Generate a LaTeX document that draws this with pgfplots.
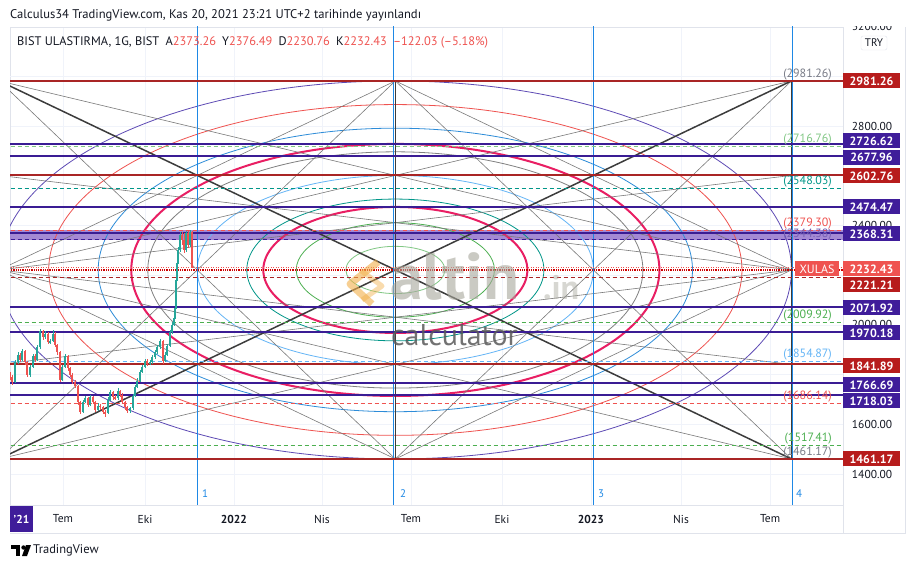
\documentclass[border=0pt]{standalone}
\usepackage{pgfplots}
\pgfplotsset{compat=1.18}
\usepackage{pgfplotstable}
\usepackage{fontspec}
\setmainfont{PT Sans}
\definecolor{tvtext}{HTML}{131722}
\definecolor{tvgray}{HTML}{787B86}
\definecolor{tvgrid}{HTML}{F0F3FA}
\definecolor{tvborder}{HTML}{E0E3EB}
\definecolor{dred}{HTML}{A92525}
\definecolor{tagred}{HTML}{B71C1C}
\definecolor{purp}{HTML}{3A1C94}
\definecolor{tagpurp}{HTML}{3F1D9A}
\definecolor{band}{HTML}{9575CD}
\definecolor{lred}{HTML}{EF5350}
\definecolor{cgreen}{HTML}{26A69A}
\definecolor{vblue}{HTML}{1E88E5}
\definecolor{ellpurp}{HTML}{5E4BB5}
\definecolor{ellblue}{HTML}{2D8CD8}
\definecolor{crimson}{HTML}{E91E63}
\definecolor{ellgray}{HTML}{808080}
\definecolor{lblue}{HTML}{64B5F6}
\definecolor{eteal}{HTML}{009688}
\definecolor{egreen}{HTML}{4CAF50}
\definecolor{lgreen}{HTML}{81C784}
\definecolor{gline}{HTML}{7A7A7A}
\definecolor{bline}{HTML}{3C3C3C}
\definecolor{wmgray}{HTML}{A8A79C}
\definecolor{wmdark}{HTML}{5A5A5A}
\definecolor{wmorange}{HTML}{F2B04A}

\pgfplotstableread{
x o h l c
-223.9 1770 1858 1765 1850
-220.9 1850 1892 1842 1880
-216.8 1860 1905 1855 1895
-208.6 1800 1840 1792 1830
-205.5 1830 1884 1825 1875
-201.4 1860 1918 1856 1910
-198.4 1910 1985 1905 1975
-193.3 1950 1975 1945 1965
-188.1 1930 1945 1925 1935
-185.1 1935 1978 1930 1965
-175.9 1780 1840 1775 1830
-172.8 1830 1885 1825 1875
-154.4 1650 1700 1645 1690
-152.4 1690 1715 1685 1705
-147.2 1680 1720 1675 1710
-139.1 1660 1685 1655 1675
-128.8 1645 1710 1640 1700
-126.8 1700 1740 1695 1730
-118.6 1705 1745 1700 1735
-106.3 1655 1672 1648 1665
-103.3 1665 1722 1660 1715
-101.2 1715 1760 1710 1750
-99.2 1750 1785 1745 1775
-96.1 1775 1820 1770 1810
-94.1 1810 1840 1805 1830
-91.0 1830 1865 1825 1855
-85.9 1845 1858 1838 1850
-83.8 1850 1880 1845 1870
-80.8 1870 1900 1865 1890
-78.7 1890 1920 1885 1910
-75.7 1910 1945 1905 1935
-70.6 1855 1890 1850 1880
-68.5 1880 1925 1875 1915
-65.4 1915 1980 1910 1970
-63.4 1970 2010 1965 2000
-61.4 2000 2040 1995 2030
-60.3 2030 2085 2025 2070
-59.3 2070 2190 2065 2180
-58.3 2180 2265 2175 2250
-57.3 2250 2315 2245 2300
-55.2 2300 2372 2295 2360
-49.1 2300 2378 2295 2370
-45.0 2320 2382 2315 2373.26
}\greencandles

\pgfplotstableread{
x o h l c
-229.0 1800 1812 1778 1790
-227.0 1790 1798 1760 1770
-218.8 1880 1888 1850 1860
-213.7 1895 1900 1840 1850
-211.7 1850 1856 1790 1800
-203.5 1875 1882 1850 1860
-195.3 1975 1980 1940 1950
-190.2 1965 1970 1922 1930
-183.0 1965 1970 1912 1920
-181.0 1920 1925 1880 1890
-177.9 1890 1895 1770 1780
-169.7 1875 1880 1815 1825
-167.7 1825 1832 1790 1800
-165.6 1800 1808 1762 1770
-162.6 1770 1778 1745 1755
-159.5 1755 1760 1680 1690
-157.5 1690 1695 1640 1650
-149.3 1705 1712 1672 1680
-144.2 1710 1716 1682 1690
-142.1 1690 1695 1650 1660
-137.0 1675 1682 1660 1670
-133.9 1670 1676 1640 1650
-131.9 1650 1658 1630 1645
-123.7 1730 1735 1700 1710
-121.7 1710 1718 1698 1705
-116.6 1735 1740 1712 1720
-114.5 1720 1725 1682 1690
-111.5 1690 1695 1660 1670
-109.4 1670 1675 1645 1655
-89.0 1855 1862 1835 1845
-72.6 1935 1940 1845 1855
-53.2 2360 2375 2320 2340
-51.1 2340 2370 2290 2300
-47.0 2370 2380 2310 2320
-43.0 2373.26 2376.49 2230.76 2232.43
}\redcandles

\pgfplotsset{
  gl/.style={draw=gline, line width=0.6pt},
  bl/.style={draw=bline, line width=1.5pt},
  hdred/.style={draw=dred, line width=1.8pt},
  hpurp/.style={draw=purp, line width=1.8pt},
  hdash/.style={line width=0.7pt, dash pattern=on 4pt off 3pt},
}

\begin{document}
\begin{tikzpicture}
\useasboundingbox (0,0) rectangle (916pt,568pt);
\fill[white] (0,0) rectangle (916pt,568pt);
\begin{axis}[
  at={(10pt,63pt)}, anchor=south west, scale only axis,
  width=833pt, height=478pt,
  xmin=-229, xmax=622.7, ymin=1276.1, ymax=3198.1,
  axis line style={draw=tvborder, line width=0.8pt},
  major tick length=0pt, no markers,
  xtick={-174.8,-91,0,90,181,274,365,457.1,548.1},
  xticklabels={Tem,Eki,\textbf{2022},Nis,Tem,Eki,\textbf{2023},Nis,Tem},
  ytick={1400,1600,2000,2400,2800},
  extra y ticks={1800,2200,2600,3000}, extra y tick labels={},
  yticklabel pos=right,
  grid=major, grid style={draw=tvgrid, line width=0.8pt},
  extra y tick style={grid=major, grid style={draw=tvgrid, line width=0.8pt}},
  xticklabel style={anchor=center, yshift=-14pt, font=\fontsize{11.5}{13}\selectfont, text=tvtext},
  yticklabel style={anchor=center, xshift=29pt, font=\fontsize{11.5}{13}\selectfont, text=tvtext},
  /pgf/number format/.cd, fixed, fixed zerofill, precision=2, 1000 sep={}, assume math mode=true,
]
% purple band
\addplot[draw=none, fill=band, fill opacity=0.85] coordinates {(-300,2343) (700,2343) (700,2381) (-300,2381)} -- cycle;

% ellipses
\draw[ellpurp, line width=0.8pt] (axis cs:165,2221.21) ellipse [x radius=405, y radius=760.04];
\draw[lred, line width=0.8pt] (axis cs:165,2221.21) ellipse [x radius=354.4, y radius=665.0];
\draw[ellblue, line width=0.8pt] (axis cs:165,2221.21) ellipse [x radius=303.8, y radius=570.0];
\draw[crimson, line width=2pt] (axis cs:165,2221.21) ellipse [x radius=270.0, y radius=506.7];
\draw[ellgray, line width=0.8pt] (axis cs:165,2221.21) ellipse [x radius=253.1, y radius=475.0];
\draw[lblue, line width=0.8pt] (axis cs:165,2221.21) ellipse [x radius=202.5, y radius=380.0];
\draw[eteal, line width=0.8pt] (axis cs:165,2221.21) ellipse [x radius=151.9, y radius=285.0];
\draw[crimson, line width=2pt] (axis cs:165,2221.21) ellipse [x radius=135.0, y radius=253.3];
\draw[egreen, line width=0.8pt] (axis cs:165,2221.21) ellipse [x radius=101.3, y radius=190.0];
\draw[lgreen, line width=0.8pt] (axis cs:165,2221.21) ellipse [x radius=50.6, y radius=95.0];

% gann lines
\addplot[gl] coordinates {(-240,2981.26) (165,1461.17)};
\addplot[gl] coordinates {(165,2981.26) (-240,1461.17)};
\addplot[gl] coordinates {(165,2981.26) (570,1461.17)};
\addplot[gl] coordinates {(570,2981.26) (165,1461.17)};
\addplot[gl] coordinates {(-240,2981.26) (570,2221.21)};
\addplot[gl] coordinates {(570,2981.26) (-240,2221.21)};
\addplot[gl] coordinates {(-240,1461.17) (570,2221.21)};
\addplot[gl] coordinates {(570,1461.17) (-240,2221.21)};
\addplot[gl] coordinates {(-240,2221.21) (165,2981.26) (570,2221.21) (165,1461.17) (-240,2221.21)};
\addplot[gl] coordinates {(-240,2221.21) (570,2601.24)};
\addplot[gl] coordinates {(-240,2601.24) (570,2221.21)};
\addplot[gl] coordinates {(-240,2221.21) (570,1841.19)};
\addplot[gl] coordinates {(-240,1841.19) (570,2221.21)};
\addplot[draw=bline, line width=0.9pt] coordinates {(165,1461.17) (165,2981.26)};
\addplot[draw=bline, line width=0.9pt] coordinates {(570,1461.17) (570,2981.26)};
\addplot[bl] coordinates {(-240,2981.26) (570,1461.17)};
\addplot[bl] coordinates {(-240,1461.17) (570,2981.26)};

% vertical blue lines
\addplot[draw=vblue, line width=1pt] coordinates {(-37.5,1000) (-37.5,4000)};
\addplot[draw=vblue, line width=1pt] coordinates {(163.6,1000) (163.6,4000)};
\addplot[draw=vblue, line width=1pt] coordinates {(367.5,1000) (367.5,4000)};
\addplot[draw=vblue, line width=1pt] coordinates {(571.4,1000) (571.4,4000)};

% dashed levels
\addplot[hdash, draw=lgreen] coordinates {(-300,2716.76) (700,2716.76)};
\addplot[hdash, draw=eteal] coordinates {(-300,2548.03) (700,2548.03)};
\addplot[hdash, draw=lred] coordinates {(-300,2379.30) (700,2379.30)};
\addplot[hdash, draw=purp] coordinates {(-300,2344.0) (700,2344.0)};
\addplot[hdash, draw=dred] coordinates {(-300,2192.33) (700,2192.33)};
\addplot[hdash, draw=egreen] coordinates {(-300,2009.92) (700,2009.92)};
\addplot[hdash, draw=lblue] coordinates {(-300,1854.87) (700,1854.87)};
\addplot[hdash, draw=lred] coordinates {(-300,1686.14) (700,1686.14)};
\addplot[hdash, draw=egreen] coordinates {(-300,1517.41) (700,1517.41)};

% solid levels
\addplot[hdred] coordinates {(-300,2981.26) (700,2981.26)};
\addplot[hdred] coordinates {(-300,2602.76) (700,2602.76)};
\addplot[hdred] coordinates {(-300,1841.89) (700,1841.89)};
\addplot[hdred] coordinates {(-300,1461.17) (700,1461.17)};
\addplot[draw=red!80!black, line width=2pt, dash pattern=on 1pt off 0.8pt] coordinates {(-300,2221.21) (700,2221.21)};
\addplot[draw=lred, line width=0.7pt, dash pattern=on 1pt off 1.5pt] coordinates {(-300,2232.43) (700,2232.43)};
\addplot[hpurp] coordinates {(-300,2726.62) (700,2726.62)};
\addplot[hpurp] coordinates {(-300,2677.96) (700,2677.96)};
\addplot[hpurp] coordinates {(-300,2474.47) (700,2474.47)};
\addplot[hpurp] coordinates {(-300,2368.31) (700,2368.31)};
\addplot[hpurp] coordinates {(-300,2071.92) (700,2071.92)};
\addplot[hpurp] coordinates {(-300,1970.18) (700,1970.18)};
\addplot[hpurp] coordinates {(-300,1766.69) (700,1766.69)};
\addplot[hpurp] coordinates {(-300,1718.03) (700,1718.03)};

% candles
\addplot[draw=none, error bars/.cd, y dir=both, y explicit, error mark=none, error bar style={draw=cgreen, line width=0.5pt}]
  table[x=x, y expr={(\thisrow{h}+\thisrow{l})/2}, y error expr={(\thisrow{h}-\thisrow{l})/2}] {\greencandles};
\addplot[draw=none, error bars/.cd, y dir=both, y explicit, error mark=none, error bar style={draw=cgreen, line width=1.4pt}]
  table[x=x, y expr={(\thisrow{o}+\thisrow{c})/2}, y error expr={abs(\thisrow{c}-\thisrow{o})/2}] {\greencandles};
\addplot[draw=none, error bars/.cd, y dir=both, y explicit, error mark=none, error bar style={draw=lred, line width=0.5pt}]
  table[x=x, y expr={(\thisrow{h}+\thisrow{l})/2}, y error expr={(\thisrow{h}-\thisrow{l})/2}] {\redcandles};
\addplot[draw=none, error bars/.cd, y dir=both, y explicit, error mark=none, error bar style={draw=lred, line width=1.4pt}]
  table[x=x, y expr={(\thisrow{o}+\thisrow{c})/2}, y error expr={abs(\thisrow{c}-\thisrow{o})/2}] {\redcandles};

% level labels
\begin{scope}[font=\fontsize{12}{13}\selectfont, inner sep=1pt]
\node[anchor=south east, text=tvgray] at (axis cs:612.5,2981.26) {(2981.26)};
\node[anchor=south east, text=lgreen] at (axis cs:612.5,2716.76) {(2716.76)};
\node[anchor=south east, text=eteal] at (axis cs:612.5,2548.03) {(2548.03)};
\node[anchor=south east, text=purp!70] at (axis cs:612.5,2338) {(2344.38)};
\node[anchor=south east, text=lred] at (axis cs:612.5,2379.30) {(2379.30)};
\node[anchor=south east, text=egreen] at (axis cs:612.5,2009.92) {(2009.92)};
\node[anchor=south east, text=lblue] at (axis cs:612.5,1854.87) {(1854.87)};
\node[anchor=south east, text=lred] at (axis cs:612.5,1686.14) {(1686.14)};
\node[anchor=south east, text=egreen] at (axis cs:612.5,1517.41) {(1517.41)};
\node[anchor=south east, text=tvgray] at (axis cs:612.5,1461.17) {(1461.17)};
\end{scope}
\end{axis}

\begin{scope}[x=1pt, y=-1pt, shift={(0pt,568pt)}]
% watermark
\draw[wmorange, opacity=0.6, line width=7pt, line join=round] (378,262) -- (350,284) -- (372,304);
\draw[wmorange, opacity=0.45, line width=5pt, line join=round] (360,270) -- (382,286) -- (362,300);
\node[anchor=base west, text=wmgray, opacity=0.6, font=\bfseries\fontsize{66}{66}\selectfont, inner sep=0pt] at (390,300) {altin};
\node[anchor=base west, text=wmgray, opacity=0.45, font=\bfseries\fontsize{34}{34}\selectfont, inner sep=0pt] at (543,300) {.in};
\node[anchor=base west, text=wmdark, opacity=0.85, font=\fontsize{30}{30}\selectfont, inner sep=0pt] at (391,346) {calculator};

% header
\node[anchor=west, text=tvtext, font=\fontsize{12.6}{14}\selectfont, inner sep=0pt] at (10,15) {Calculus34 TradingView.com, Kas 20, 2021 23:21 UTC+2 tarihinde yayınlandı};
\node[anchor=west, text=tvtext, font=\fontsize{12.4}{14}\selectfont, inner sep=0pt] at (17,42) {BIST ULASTIRMA, 1G, BIST\enspace A\textcolor{lred}{2373.26}\enspace Y\textcolor{lred}{2376.49}\enspace D\textcolor{lred}{2230.76}\enspace K\textcolor{lred}{2232.43}\enspace\textcolor{lred}{–122.03 (–5.18\%)}};

% borders
\draw[tvborder, line width=0.8pt] (10,533) -- (905,533) -- (905,27);
\draw[tvborder, line width=0.8pt] (843,505) -- (843,533);

% 3200 label cut
\begin{scope}
\clip (843,27) rectangle (905,40);
\node[text=tvtext, font=\fontsize{11.5}{13}\selectfont] at (872,26) {3200.00};
\end{scope}
\node[draw=tvborder, rounded corners=2pt, text=tvtext, font=\fontsize{11}{12}\selectfont, minimum width=26pt, minimum height=14pt, inner sep=1pt] at (874,43) {TRY};

% price tags
\begin{scope}[every node/.style={text=white, font=\bfseries\fontsize{12}{13}\selectfont, minimum width=57pt, minimum height=15pt, inner sep=0pt}]
\node[fill=tagred] at (871.5,81) {2981.26};
\node[fill=tagpurp] at (871.5,141) {2726.62};
\node[fill=tagpurp] at (871.5,157.5) {2677.96};
\node[fill=tagred] at (871.5,176) {2602.76};
\node[fill=tagpurp] at (871.5,207) {2474.47};
\node[fill=tagpurp] at (871.5,234) {2368.31};
\node[fill=lred] at (871.5,269) {2232.43};
\node[fill=tagred] at (871.5,285) {2221.21};
\node[fill=tagpurp] at (871.5,308) {2071.92};
\node[fill=tagpurp] at (871.5,333) {1970.18};
\node[fill=tagred] at (871.5,366) {1841.89};
\node[fill=tagpurp] at (871.5,385) {1766.69};
\node[fill=tagpurp] at (871.5,401) {1718.03};
\node[fill=tagred] at (871.5,459) {1461.17};
\end{scope}
\node[fill=lred, text=white, font=\fontsize{12}{13}\selectfont, minimum width=44pt, minimum height=15pt, inner sep=0pt] at (817,269) {XULAS};

% quarter numbers
\begin{scope}[every node/.style={text=vblue, font=\fontsize{11}{12}\selectfont, inner sep=0pt, anchor=west}]
\node at (202,494) {1};
\node at (400,494) {2};
\node at (598,494) {3};
\node at (796,494) {4};
\end{scope}

% '21 box
\fill[tagpurp] (10,506) rectangle (33,532);
\node[text=white, font=\bfseries\fontsize{11.5}{13}\selectfont] at (21.5,519) {’21};

% TradingView logo
\fill[black] (11,545) rectangle (20,549);
\fill[black] (15.5,545) rectangle (20,556);
\fill[black] (23.5,547.5) circle (2.2);
\fill[black] (26,545) -- (31,545) -- (27,556) -- (22,556) -- cycle;
\node[anchor=west, text=tvtext, font=\fontsize{12.5}{14}\selectfont, inner sep=0pt] at (33,550) {TradingView};
\end{scope}
\end{tikzpicture}
\end{document}
